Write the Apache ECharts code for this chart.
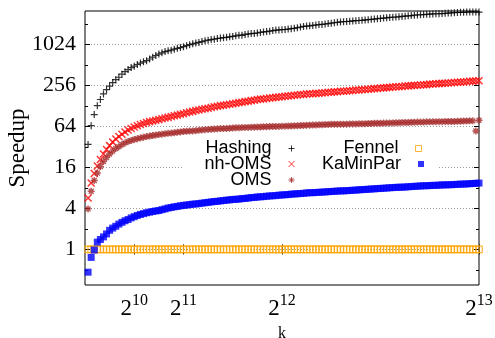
<!DOCTYPE html>
<html>
<head>
<meta charset="utf-8">
<script src="https://cdn.jsdelivr.net/npm/echarts@6/dist/echarts.min.js"></script>
<style>
  html, body { margin: 0; padding: 0; background: #fff; }
  #chart { width: 495px; height: 338px; }
</style>
</head>
<body>
<div id="chart"></div>
<script>
// number of blocks k
const kValues = [
  64, 128, 192, 256, 320, 384, 448, 512, 576, 640, 704, 768, 832, 896, 960, 1024,
  1088, 1152, 1216, 1280, 1344, 1408, 1472, 1536, 1600, 1664, 1728, 1792, 1856, 1920, 1984, 2048,
  2112, 2176, 2240, 2304, 2368, 2432, 2496, 2560, 2624, 2688, 2752, 2816, 2880, 2944, 3008, 3072,
  3136, 3200, 3264, 3328, 3392, 3456, 3520, 3584, 3648, 3712, 3776, 3840, 3904, 3968, 4032, 4096,
  4160, 4224, 4288, 4352, 4416, 4480, 4544, 4608, 4672, 4736, 4800, 4864, 4928, 4992, 5056, 5120,
  5184, 5248, 5312, 5376, 5440, 5504, 5568, 5632, 5696, 5760, 5824, 5888, 5952, 6016, 6080, 6144,
  6208, 6272, 6336, 6400, 6464, 6528, 6592, 6656, 6720, 6784, 6848, 6912, 6976, 7040, 7104, 7168,
  7232, 7296, 7360, 7424, 7488, 7552, 7616, 7680, 7744, 7808, 7872, 7936, 8000, 8064, 8128, 8192
];

// speedup per partitioner
const hashing = [
  35, 66, 96, 130, 160, 193, 223, 252, 284, 313, 340, 377, 410, 440, 471, 495,
  523, 549, 572, 596, 630, 671, 709, 744, 776, 809, 832, 849, 879, 904, 929, 955,
  989, 1024, 1053, 1082, 1105, 1136, 1168, 1193, 1218, 1235, 1261, 1279, 1297, 1314, 1333, 1351,
  1380, 1412, 1405, 1448, 1468, 1489, 1499, 1520, 1552, 1574, 1595, 1618, 1652, 1675, 1687, 1698,
  1710, 1734, 1758, 1783, 1820, 1858, 1897, 1924, 1937, 1964, 1992, 2020, 2034, 2062, 2091, 2120,
  2150, 2179, 2210, 2225, 2241, 2256, 2288, 2304, 2320, 2336, 2368, 2385, 2418, 2435, 2469, 2486,
  2521, 2538, 2574, 2592, 2610, 2628, 2665, 2683, 2721, 2740, 2778, 2797, 2817, 2836, 2856, 2876,
  2896, 2916, 2916, 2937, 2957, 2978, 2998, 3019, 3040, 3061, 3061, 3082, 3104, 3082, 3104, 3082
];
const nhOms = [
  5.7, 9.5, 13.1, 16.8, 21.0, 25.3, 29.4, 33.6, 37.8, 41.9, 45.6, 49.5, 53.1, 56.9, 60.1, 63.1,
  65.8, 68.6, 71.0, 73.5, 75.6, 77.2, 79.3, 81.0, 83.3, 85.6, 87.4, 89.9, 92.4, 94.3, 97.0, 99.0,
  102, 105, 107, 110, 112, 115, 117, 119, 122, 125, 127, 130, 132, 134, 136, 139,
  141, 144, 146, 149, 151, 154, 156, 160, 162, 163, 165, 168, 170, 172, 174, 176,
  179, 180, 182, 185, 186, 189, 190, 193, 194, 195, 197, 198, 199, 201, 204, 205,
  207, 208, 211, 212, 214, 215, 217, 220, 221, 223, 224, 226, 229, 231, 232, 236,
  237, 239, 241, 244, 246, 247, 249, 252, 254, 256, 258, 260, 261, 263, 265, 269,
  271, 272, 274, 276, 278, 280, 282, 284, 286, 288, 290, 292, 296, 298, 300, 302
];
const oms = [
  3.94, 7.16, 10.3, 13.3, 16.6, 19.6, 22.5, 25.3, 27.9, 30.5, 32.4, 34.8, 36.8, 38.6, 40.0, 41.4,
  42.5, 43.4, 44.6, 45.6, 46.5, 47.2, 48.2, 48.8, 49.5, 50.2, 50.9, 51.3, 52.0, 52.7, 53.4, 54.2,
  54.6, 54.9, 55.3, 55.7, 56.5, 56.9, 57.7, 58.1, 58.5, 58.9, 59.3, 59.7, 59.7, 60.1, 60.6, 61.0,
  61.4, 61.4, 61.8, 62.2, 62.2, 62.7, 62.7, 63.1, 63.1, 63.6, 63.6, 64.0, 64.0, 64.4, 64.4, 64.9,
  64.9, 65.3, 65.3, 65.8, 65.8, 66.3, 66.3, 67.2, 67.2, 67.6, 67.6, 68.1, 68.1, 68.6, 68.6, 69.1,
  69.1, 69.1, 69.5, 69.5, 69.5, 70.0, 70.0, 70.0, 70.5, 70.5, 70.5, 71.0, 71.0, 71.5, 71.5, 71.5,
  72.0, 72.0, 72.5, 72.5, 73.0, 73.0, 73.5, 73.5, 73.5, 74.0, 74.0, 74.5, 74.5, 74.5, 75.1, 75.1,
  75.1, 75.6, 75.6, 75.6, 76.1, 76.1, 76.1, 76.1, 76.6, 76.6, 77.2, 77.2, 77.7, 77.7, 55.0, 79.3
];
const fennel = [
  1.00, 1.00, 1.00, 1.00, 1.00, 1.00, 1.00, 1.00, 1.00, 1.00, 1.00, 1.00, 1.00, 1.00, 1.00, 1.00,
  1.00, 1.00, 1.00, 1.00, 1.00, 1.00, 1.00, 1.00, 1.00, 1.00, 1.00, 1.00, 1.00, 1.00, 1.00, 1.00,
  1.00, 1.00, 1.00, 1.00, 1.00, 1.00, 1.00, 1.00, 1.00, 1.00, 1.00, 1.00, 1.00, 1.00, 1.00, 1.00,
  1.00, 1.00, 1.00, 1.00, 1.00, 1.00, 1.00, 1.00, 1.00, 1.00, 1.00, 1.00, 1.00, 1.00, 1.00, 1.00,
  1.00, 1.00, 1.00, 1.00, 1.00, 1.00, 1.00, 1.00, 1.00, 1.00, 1.00, 1.00, 1.00, 1.00, 1.00, 1.00,
  1.00, 1.00, 1.00, 1.00, 1.00, 1.00, 1.00, 1.00, 1.00, 1.00, 1.00, 1.00, 1.00, 1.00, 1.00, 1.00,
  1.00, 1.00, 1.00, 1.00, 1.00, 1.00, 1.00, 1.00, 1.00, 1.00, 1.00, 1.00, 1.00, 1.00, 1.00, 1.00,
  1.00, 1.00, 1.00, 1.00, 1.00, 1.00, 1.00, 1.00, 1.00, 1.00, 1.00, 1.00, 1.00, 1.00, 1.00, 1.00
];
const kaminpar = [
  0.463, 0.763, 0.98, 1.28, 1.40, 1.53, 1.69, 1.91, 2.06, 2.19, 2.36, 2.50, 2.64, 2.75, 2.91, 3.03,
  3.16, 3.27, 3.36, 3.46, 3.53, 3.61, 3.68, 3.73, 3.84, 3.94, 4.06, 4.14, 4.23, 4.29, 4.38, 4.44,
  4.50, 4.56, 4.63, 4.66, 4.72, 4.79, 4.86, 4.92, 4.99, 5.06, 5.10, 5.17, 5.24, 5.31, 5.35, 5.43,
  5.46, 5.50, 5.58, 5.62, 5.70, 5.78, 5.82, 5.90, 5.94, 5.98, 6.06, 6.11, 6.15, 6.19, 6.28, 6.32,
  6.36, 6.41, 6.50, 6.54, 6.59, 6.63, 6.68, 6.77, 6.82, 6.82, 6.87, 6.92, 6.96, 7.01, 7.06, 7.11,
  7.16, 7.21, 7.26, 7.26, 7.31, 7.36, 7.41, 7.46, 7.52, 7.57, 7.62, 7.67, 7.73, 7.78, 7.84, 7.89,
  7.94, 8.00, 8.06, 8.11, 8.17, 8.22, 8.22, 8.28, 8.34, 8.40, 8.46, 8.51, 8.57, 8.63, 8.63, 8.69,
  8.75, 8.75, 8.82, 8.88, 8.88, 8.94, 8.94, 9.00, 9.06, 9.13, 9.13, 9.19, 9.25, 9.32, 9.38, 9.45
];

// axis ticks
const xTicks = [1024, 2048, 4096, 8192];
const yMajorTicks = [1, 4, 16, 64, 256, 1024];
const yMinorTicks = [0.5, 2, 8, 32, 128, 512, 2048];
const yRange = [0.3, 3200];
const xRange = [0, 8192];

// the speedup axis is logarithmic (base 2): plot exponents on a value axis
const lg = Math.log2;
const toPoints = vals => kValues.map((k, i) => [k, lg(vals[i])]);

const PLUS = 'path://M0,5H10M5,0V10';
const CROSS = 'path://M0,0L10,10M10,0L0,10';
const STAR = 'path://M0,5H10M5,0V10M1.5,1.5L8.5,8.5M8.5,1.5L1.5,8.5';
const SQUARE = 'path://M0,0H10V10H0Z';

const serif = 'Liberation Serif';
const sans = 'Liberation Sans';

function yAxisCfg(position, ticks, len, extra) {
  return Object.assign({
    type: 'value', position, min: lg(yRange[0]), max: lg(yRange[1]),
    axisLine: { show: false },
    axisTick: { show: true, inside: true, length: len, customValues: ticks.map(lg),
                lineStyle: { color: '#000', width: 1 } },
    axisLabel: { show: false },
    splitLine: { show: false }
  }, extra || {});
}

function xAxisCfg(position, extra) {
  return Object.assign({
    type: 'value', position, min: xRange[0], max: xRange[1],
    axisLine: { show: false },
    axisTick: { show: true, inside: true, length: 5, customValues: xTicks,
                lineStyle: { color: '#000', width: 1 } },
    axisLabel: { show: false },
    splitLine: { show: false }
  }, extra || {});
}

// key: two columns, text right-aligned against its marker
function keyEntry(name, right, top) {
  return {
    orient: 'vertical', right, top, padding: 0, itemGap: 0,
    itemWidth: 30, itemHeight: 6, align: 'right', selectedMode: false, symbolKeepAspect: true,
    data: [name], textStyle: { fontFamily: sans, fontSize: 18, color: '#000' },
    itemStyle: { borderWidth: 1 }
  };
}
const keyRows = [139.5, 155, 171];
const keyCols = [198, 71];

const chart = echarts.init(document.getElementById('chart'), null, { renderer: 'canvas' });
chart.setOption({
  animation: false,
  backgroundColor: '#fff',
  grid: { left: 85, top: 11, right: 16, bottom: 53, show: true, outerBoundsMode: 'none',
          containLabel: false,
          borderColor: '#000', borderWidth: 1, backgroundColor: 'transparent' },
  xAxis: [
    xAxisCfg('bottom', {
      name: 'k', nameLocation: 'middle', nameGap: 41, nameMoveOverlap: false,
      nameTextStyle: { fontFamily: serif, fontSize: 16, color: '#000' },
      axisLabel: {
        show: true, customValues: xTicks, margin: 8, showMaxLabel: true, showMinLabel: true,
        formatter: v => '{b|2}{s|' + Math.round(lg(v)) + '}',
        rich: {
          b: { fontFamily: serif, fontSize: 23, lineHeight: 31.6, color: '#000' },
          s: { fontFamily: serif, fontSize: 16, lineHeight: 16, verticalAlign: 'top', color: '#000' }
        }
      }
    }),
    xAxisCfg('top')
  ],
  yAxis: [
    yAxisCfg('left', yMajorTicks, 5, {
      name: 'Speedup', nameLocation: 'middle', nameGap: 56, nameRotate: 90, nameMoveOverlap: false,
      nameTextStyle: { fontFamily: serif, fontSize: 23, color: '#000' },
      axisLabel: {
        show: true, customValues: yMajorTicks.map(lg), margin: 9,
        fontFamily: serif, fontSize: 22, color: '#000',
        formatter: v => String(Math.round(Math.pow(2, v)))
      },
      splitLine: { show: true, lineStyle: { color: '#9a9a9a', width: 1, type: [1, 2] } }
    }),
    yAxisCfg('left', yMinorTicks, 3),
    yAxisCfg('right', yMajorTicks, 5),
    yAxisCfg('right', yMinorTicks, 3)
  ],
  graphic: [
    { type: 'rect', z: 1, shape: { x: 183, y: 139, width: 255, height: 48 }, style: { fill: '#fff' } }
  ],
  legend: [
    keyEntry('Hashing', keyCols[0], keyRows[0]),
    keyEntry('nh-OMS', keyCols[0], keyRows[1]),
    keyEntry('OMS', keyCols[0], keyRows[2]),
    keyEntry('Fennel', keyCols[1], keyRows[0]),
    keyEntry('KaMinPar', keyCols[1], keyRows[1])
  ],
  series: [
    { name: 'Hashing', type: 'scatter', data: toPoints(hashing), symbol: PLUS, symbolSize: 7,
      itemStyle: { color: 'none', borderColor: '#000000', borderWidth: 1.2 } },
    { name: 'nh-OMS', type: 'scatter', data: toPoints(nhOms), symbol: CROSS, symbolSize: 7,
      itemStyle: { color: 'none', borderColor: '#ff0000', borderWidth: 1.5 } },
    { name: 'OMS', type: 'scatter', data: toPoints(oms), symbol: STAR, symbolSize: 7,
      itemStyle: { color: 'none', borderColor: '#a52a2a', borderWidth: 1.4 } },
    { name: 'Fennel', type: 'scatter', data: toPoints(fennel), symbol: SQUARE, symbolSize: 6.5,
      itemStyle: { color: 'none', borderColor: '#ffa500', borderWidth: 1.2 } },
    { name: 'KaMinPar', type: 'scatter', data: toPoints(kaminpar), symbol: SQUARE, symbolSize: 7,
      itemStyle: { color: '#0000ff' } }
  ]
});
</script>
</body>
</html>
